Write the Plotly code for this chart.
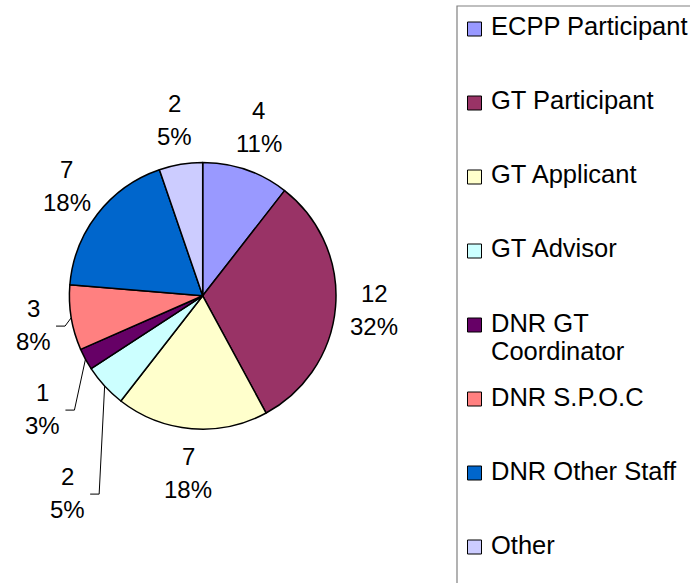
import math
import plotly.graph_objects as go

# ---------------- data ----------------
categories = ["ECPP Participant", "GT Participant", "GT Applicant", "GT Advisor",
              "DNR GT Coordinator", "DNR S.P.O.C", "DNR Other Staff", "Other"]
values = [4, 12, 7, 2, 1, 3, 7, 2]
colors = ["#9999FF", "#993366", "#FFFFCC", "#CCFFFF",
          "#660066", "#FF8080", "#0066CC", "#CCCCFF"]
legend_lines = [["ECPP Participant"], ["GT Participant"], ["GT Applicant"], ["GT Advisor"],
                ["DNR GT", "Coordinator"], ["DNR S.P.O.C"], ["DNR Other Staff"], ["Other"]]

# ---------------- layout constants (pixels) ----------------
W, H = 690, 583
CX, CY, R = 202.7, 295.8, 133.3
FONT = "Liberation Sans, Arial, sans-serif"
LABEL_SIZE = 24
LEGEND_SIZE = 25.5


def px(x):
    return x / W


def py(y):
    return 1 - y / H


total = sum(values)

fig = go.Figure(go.Pie(
    labels=categories, values=values, sort=False, direction="clockwise", rotation=0,
    textinfo="none", hoverinfo="label+value+percent", showlegend=False,
    marker=dict(colors=colors, line=dict(color="black", width=1.5)),
    domain=dict(x=[px(CX - R), px(CX + R)], y=[py(CY + R), py(CY - R)]),
))

annotations = []
shapes = []

# ---------------- data labels ----------------
LA, LB = 172, 178      # label ellipse radii
LINE_GAP = 33          # distance between value and percent lines
MIN_SEP = 84           # minimum vertical separation of stacked labels
PUSH_SHIFT = 9         # pushed labels move slightly outward
labels = []
cum = 0
for i, v in enumerate(values):
    mid = (cum + v / 2) / total * 2 * math.pi
    cum += v
    s, c = math.sin(mid), math.cos(mid)
    labels.append(dict(i=i, s=s, c=c, x=CX + LA * s, y=CY - LB * c))

lower_left = sorted([L for L in labels if L["s"] < 0 and L["c"] < 0], key=lambda L: L["y"])
prev = None
for L in lower_left:
    if prev is not None and abs(L["x"] - prev["x"]) < 60 and L["y"] < prev["y"] + MIN_SEP:
        L["y"] = prev["y"] + MIN_SEP
        L["x"] -= PUSH_SHIFT
    prev = L

for L in labels:
    i = L["i"]
    v = values[i]
    pct = round(v / total * 100)
    annotations.append(dict(x=px(L["x"]), y=py(L["y"] - LINE_GAP / 2), xref="paper", yref="paper",
                            text=str(v), showarrow=False, xanchor="center", yanchor="middle",
                            font=dict(family=FONT, size=LABEL_SIZE, color="black")))
    annotations.append(dict(x=px(L["x"]), y=py(L["y"] + LINE_GAP / 2), xref="paper", yref="paper",
                            text=f"{pct}%", showarrow=False, xanchor="center", yanchor="middle",
                            font=dict(family=FONT, size=LABEL_SIZE, color="black")))
    # leader lines for small slices on the lower-left side
    if v / total < 0.1 and L["s"] < 0 and L["c"] < 0:
        sx, sy = CX + R * L["s"], CY - R * L["c"]
        ex, ey = L["x"] + 23, L["y"] + 1
        kx, ky = ex + 9, ey
        for (x0, y0, x1, y1) in [(sx, sy, kx, ky), (kx, ky, ex, ey)]:
            shapes.append(dict(type="line", xref="paper", yref="paper",
                               x0=px(x0), y0=py(y0), x1=px(x1), y1=py(y1),
                               line=dict(color="black", width=1)))

# ---------------- legend (drawn manually) ----------------
LEG_LEFT, LEG_TOP = 457, 6
shapes.append(dict(type="rect", xref="paper", yref="paper",
                   x0=px(LEG_LEFT), x1=1.05, y0=-0.05, y1=py(LEG_TOP),
                   line=dict(color="#808080", width=1.2), fillcolor="rgba(0,0,0,0)"))
ITEM0, ITEM_STEP, MK = 29, 74, 14
MK_CX, TEXT_X = 474.5, 489
for k, (lines, col) in enumerate(zip(legend_lines, colors)):
    cy = ITEM0 + ITEM_STEP * k
    shapes.append(dict(type="rect", xref="paper", yref="paper",
                       x0=px(MK_CX - MK / 2), x1=px(MK_CX + MK / 2),
                       y0=py(cy + MK / 2), y1=py(cy - MK / 2),
                       line=dict(color="black", width=1), fillcolor=col))
    for j, t in enumerate(lines):
        annotations.append(dict(x=px(TEXT_X), y=py(cy - 2.5 + 28 * j), xref="paper", yref="paper",
                                text=t, showarrow=False, xanchor="left", yanchor="middle",
                                font=dict(family=FONT, size=LEGEND_SIZE, color="black")))

fig.update_layout(
    width=W, height=H, margin=dict(l=0, r=0, t=0, b=0),
    paper_bgcolor="white", plot_bgcolor="white",
    annotations=annotations, shapes=shapes,
)

fig.write_html("out.html", config={"displayModeBar": False},
               post_script="document.body.style.margin='0px';")
